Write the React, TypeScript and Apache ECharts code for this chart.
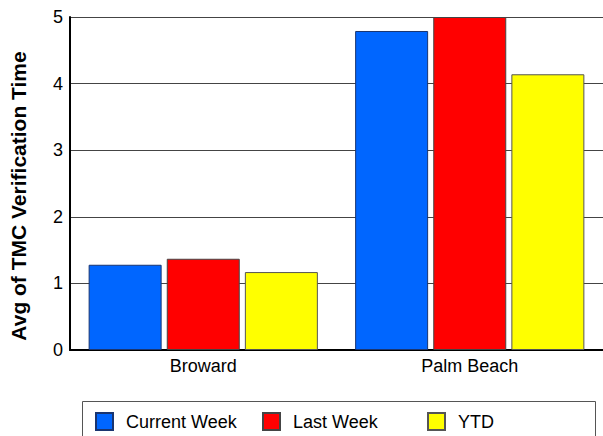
import React, { useEffect, useRef } from "react";
import * as echarts from "echarts";

const categories = ["Broward", "Palm Beach"];
const currentWeek = [1.28, 4.79];
const lastWeek = [1.37, 5.0];
const ytd = [1.17, 4.14];
const seriesNames = ["Current Week", "Last Week", "YTD"];
const yTitle = "Avg of TMC Verification Time";

const FONT = "'Liberation Sans', Arial, sans-serif";

export default function App() {
  const ref = useRef<HTMLDivElement>(null);
  useEffect(() => {
    if (!ref.current) return;
    const chart = echarts.init(ref.current, undefined, { renderer: "svg" });
    const mkLegend = (name: string, left: number) => ({
      data: [name],
      left,
      top: 412,
      itemWidth: 17,
      itemHeight: 17,
      padding: 0,
      icon: "rect",
      textStyle: { fontFamily: FONT, fontSize: 18, color: "#000", padding: [0, 0, 0, 8] },
    });
    chart.setOption({
      animation: false,
      textStyle: { fontFamily: FONT },
      grid: { left: 70, right: 0, top: 17, bottom: 86, containLabel: false },
      legend: [mkLegend(seriesNames[0], 95), mkLegend(seriesNames[1], 262), mkLegend(seriesNames[2], 427)],
      graphic: [
        {
          type: "rect",
          shape: { x: 82.5, y: 401.5, width: 513, height: 50 },
          style: { fill: "none", stroke: "#555", lineWidth: 1 },
          z: -1,
        },
        {
          type: "text",
          x: 18,
          y: 196,
          rotation: Math.PI / 2,
          style: {
            text: yTitle,
            fontFamily: FONT,
            fontSize: 21,
            fontWeight: "bold",
            fill: "#000",
            align: "center",
            verticalAlign: "middle",
          },
        },
      ],
      xAxis: {
        type: "category",
        data: categories,
        axisLine: { lineStyle: { color: "#000", width: 2 } },
        axisTick: { show: false },
        axisLabel: { fontFamily: FONT, fontSize: 18, color: "#000", margin: 7 },
      },
      yAxis: {
        type: "value",
        min: 0,
        max: 5,
        interval: 1,
        axisLine: { show: true, lineStyle: { color: "#000", width: 2 } },
        axisTick: { show: false },
        axisLabel: { fontFamily: FONT, fontSize: 18, color: "#000", margin: 7 },
        splitLine: { lineStyle: { color: "#444", width: 1 } },
      },
      series: [
        {
          name: seriesNames[0],
          type: "bar",
          data: currentWeek,
          barWidth: 73,
          barGap: "7%",
          itemStyle: { color: "#0066FF", borderColor: "#1a3570", borderWidth: 1 },
        },
        {
          name: seriesNames[1],
          type: "bar",
          data: lastWeek,
          barWidth: 73,
          barGap: "7%",
          itemStyle: { color: "#FF0000", borderColor: "#444", borderWidth: 1 },
        },
        {
          name: seriesNames[2],
          type: "bar",
          data: ytd,
          barWidth: 73,
          barGap: "7%",
          itemStyle: { color: "#FFFF00", borderColor: "#555", borderWidth: 1 },
        },
      ],
    });
    return () => chart.dispose();
  }, []);
  return <div ref={ref} style={{ width: 603, height: 436, position: "absolute", left: 0, top: 0 }} />;
}
